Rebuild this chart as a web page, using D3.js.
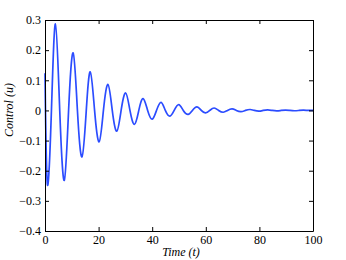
<!DOCTYPE html>
<html>
<head>
<meta charset="utf-8">
<script src="https://cdn.jsdelivr.net/npm/d3@7"></script>
<style>
  body { margin: 0; background: #fff; }
  text { font-family: "Liberation Serif", "DejaVu Serif", serif; }
</style>
</head>
<body>
<div id="chart-area"></div>
<script>
// readings from the picture: extrema and zero crossings of the response
var time = [0, 0.9, 2.4, 3.9, 5.5, 7.2, 8.8, 10.5, 12.1, 13.8, 15.4, 16.9, 18.5, 20.2,
    21.8, 23.5, 25.1, 26.8, 28.4, 30.1, 31.7, 33.4, 35.0, 36.6, 38.3, 40.0, 41.6,
    43.3, 44.9, 46.6, 48.2, 49.9, 51.6, 53.4, 55.0, 56.7, 58.3, 59.9, 61.5, 63.1,
    64.8, 66.5, 68.1, 69.8, 71.4, 73.1, 74.8, 76.5, 78.1, 79.8, 81.4, 83.1, 84.8,
    86.5, 88.1, 89.8, 91.4, 93.1, 94.8, 96.5, 98.2, 100];
var control = [0.123, -0.246, 0, 0.287, 0, -0.232, 0, 0.191, 0, -0.154, 0, 0.128, 0, -0.104,
    0, 0.086, 0, -0.069, 0, 0.058, 0, -0.046, 0, 0.039, 0, -0.029, 0,
    0.027, 0, -0.019, 0, 0.019, 0, -0.013, 0, 0.012, 0, -0.008, 0, 0.008,
    0, -0.006, 0, 0.005, 0, -0.004, 0, 0.003, 0, -0.0025, 0, 0.002, 0,
    -0.0015, 0, 0.0012, 0, -0.001, 0, 0.0008, 0, 0];

var xTicks = [0, 20, 40, 60, 80, 100];
var yTicks = [0.3, 0.2, 0.1, 0, -0.1, -0.2, -0.3, -0.4];

var margin = { top: 20, right: 33, bottom: 29, left: 45 },
    width = 346 - margin.left - margin.right,
    height = 260 - margin.top - margin.bottom;

var svg = d3.select("#chart-area").append("svg")
    .attr("width", 346)
    .attr("height", 260);
var g = svg.append("g")
    .attr("transform", "translate(" + margin.left + ", " + margin.top + ")");

var x = d3.scaleLinear().domain([0, 100]).range([0, width]);
var y = d3.scaleLinear().domain([-0.4, 0.3]).range([height, 0]);

var fmt = function (d) { return d === 0 ? "0" : d3.format(".1f")(d).replace("-", "\u2212"); };

var points = time.map(function (t, i) { return [t, control[i]]; });

var line = d3.line()
    .x(function (d) { return x(d[0]); })
    .y(function (d) { return y(d[1]); })
    .curve(d3.curveNatural);

g.append("path")
    .datum(points)
    .attr("fill", "none")
    .attr("stroke", "#2b4cff")
    .attr("stroke-width", 1.7)
    .attr("d", line);

var axBottom = g.append("g").attr("transform", "translate(0, " + height + ")")
    .call(d3.axisBottom(x).tickValues(xTicks).tickSize(-4).tickSizeOuter(0).tickPadding(4).tickFormat(d3.format("d")));
var axLeft = g.append("g")
    .call(d3.axisLeft(y).tickValues(yTicks).tickSize(-4).tickSizeOuter(0).tickPadding(4).tickFormat(fmt));
var axTop = g.append("g")
    .call(d3.axisTop(x).tickValues(xTicks).tickSize(-4).tickSizeOuter(0).tickFormat(""));
var axRight = g.append("g").attr("transform", "translate(" + width + ", 0)")
    .call(d3.axisRight(y).tickValues(yTicks).tickSize(-4).tickSizeOuter(0).tickFormat(""));

[axBottom, axLeft, axTop, axRight].forEach(function (a) {
    a.attr("font-family", "'Liberation Serif', serif").attr("font-size", 12);
    a.selectAll("text").attr("fill", "#000");
    a.select(".domain").attr("stroke", "#000");
    a.selectAll("line").attr("stroke", "#000");
});

g.append("text")
    .attr("x", width / 2 + 2)
    .attr("y", height + 25)
    .style("text-anchor", "middle")
    .style("font-style", "italic")
    .style("font-size", "12px")
    .text("Time (t)");

g.append("text")
    .attr("transform", "rotate(-90)")
    .attr("x", -90)
    .attr("y", -32)
    .style("text-anchor", "middle")
    .style("font-style", "italic")
    .style("font-size", "12px")
    .text("Control (u)");
</script>
</body>
</html>
